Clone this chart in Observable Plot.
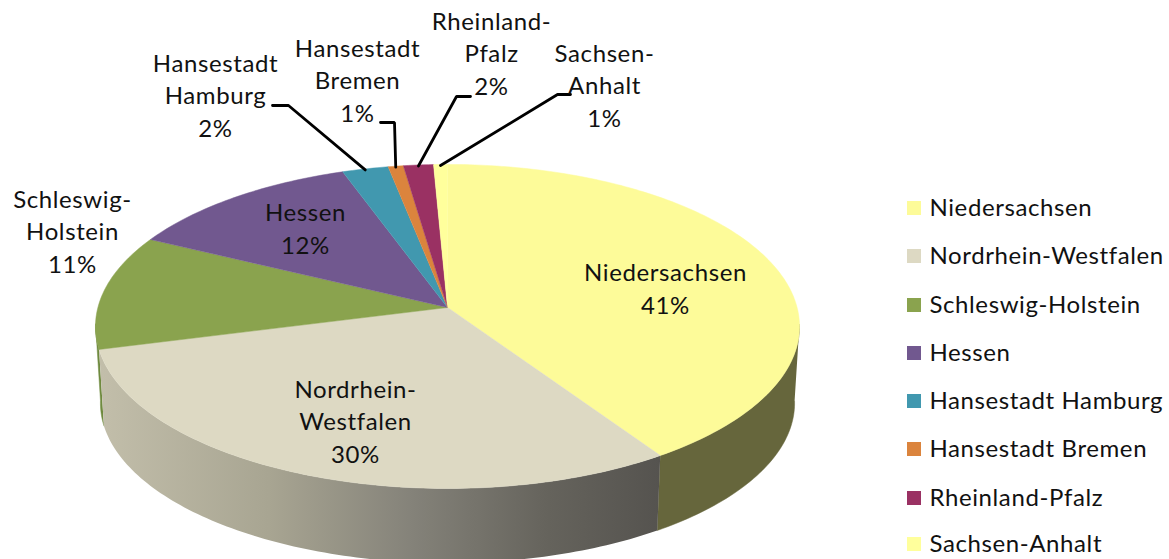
<!DOCTYPE html>
<html><head><meta charset="utf-8">
<style>html,body{margin:0;padding:0;background:#fff}svg{display:block}</style>
<script src="https://cdn.jsdelivr.net/npm/d3@7"></script>
<script src="https://cdn.jsdelivr.net/npm/@observablehq/plot@0.6"></script>
</head><body><div id="chart"></div>
<script>
const states = ["Niedersachsen","Nordrhein-Westfalen","Schleswig-Holstein","Hessen","Hansestadt Hamburg","Hansestadt Bremen","Rheinland-Pfalz","Sachsen-Anhalt"];
const shares = [40.75,30.15,11.49,12.21,2.37,0.78,1.54,0.71];
const colors = ["#FDFB99","#DDD9C3","#8AA34E","#71588F","#4198AF","#DB843D","#9A3163","#FFFF9C"];
const labelLines = ["Niedersachsen","Nordrhein-\nWestfalen","Schleswig-\nHolstein","Hessen","Hansestadt\nHamburg","Hansestadt\nBremen","Rheinland-\nPfalz","Sachsen-\nAnhalt"];
const labelX = [665,355,72,305,215,357,491,604];
const labelY = [286.5,419.5,229.5,226.5,93.5,78.5,51.5,83.5];
const leaderElbows = [null,null,null,null,[[272,105],[288,105]],[[380,122],[394,122]],[[470,96],[456,96]],[[570,94],[557,94]]];
const legendY = [208,256,305,353,401,449,498,544];

// perspective pie geometry
const pie = {cx:447,cy:307,a:349.6,b:159.8,k:0.117};
const base = {dy:77,f:0.986};
const project = (deg,f=1,dy=0)=>{
  const t=deg*Math.PI/180,s=Math.sin(t),u=Math.cos(t),w=1+pie.k*u;
  return {x:pie.cx+f*pie.a*s/w,y:pie.cy+dy-f*pie.b*u/w};
};
let acc=0;
const slices=states.map((name,i)=>{const start=acc*3.6;acc+=shares[i];return {name,start,end:acc*3.6,mid:(start+acc*3.6)/2,i};});
const arc=(a0,a1)=>{const n=Math.max(2,Math.ceil(Math.abs(a1-a0)));return d3.range(n+1).map(j=>a0+(a1-a0)*j/n);};

const faces=slices.flatMap(s=>[
  {name:s.name,x:pie.cx,y:pie.cy},
  ...arc(s.start,s.end).map(d=>({name:s.name,...project(d)}))
]);
const wall=(id,a0,a1)=>[
  ...arc(a0,a1).map(d=>({id,...project(d)})),
  ...arc(a1,a0).map(d=>({id,...project(d,base.f,base.dy)}))
];
const wallN=wall("n",96,slices[0].end);
const wallW=wall("w",slices[1].start,slices[1].end);
const wallS=wall("s",slices[2].start,slices[2].start+9);

const leaders=slices.flatMap(s=>{
  const e=leaderElbows[s.i]; if(!e) return [];
  const p=project(s.mid);
  return [...e.map(([x,y])=>({name:s.name,x,y})),{name:s.name,x:p.x,y:p.y+1}];
});
const labels=slices.map(s=>({name:s.name,x:labelX[s.i],y:labelY[s.i],text:labelLines[s.i]+"\n"+Math.round(shares[s.i])+"%"}));
const legend=states.map((name,i)=>({name,y:legendY[i]}));

const gradient=()=>{
  const svg=d3.create("svg:defs");
  const g=svg.append("linearGradient").attr("id","nrwWall").attr("gradientUnits","userSpaceOnUse")
    .attr("x1",100).attr("x2",660).attr("y1",0).attr("y2",0);
  [[0,"#C2BEAA"],[0.3,"#A8A592"],[0.55,"#85837A"],[0.8,"#65635C"],[1,"#55534F"]]
    .forEach(([o,c])=>g.append("stop").attr("offset",o).attr("stop-color",c));
  return svg.node();
};

const chart=Plot.plot({
  width:1169,height:559,margin:0,
  x:{domain:[0,1169],range:[0,1169],axis:null},
  y:{domain:[0,559],range:[0,559],axis:null},
  color:{type:"ordinal",domain:states,range:colors},
  style:{background:"#fff",fontFamily:"Lato",fontSize:"24px",color:"#000",letterSpacing:"0.6px"},
  marks:[
    gradient,
    Plot.line(wallS,{x:"x",y:"y",fill:"#6F8A3F",stroke:"#6F8A3F",strokeWidth:0.5}),
    Plot.line(wallN,{x:"x",y:"y",fill:"#66663C",stroke:"#66663C",strokeWidth:0.5}),
    Plot.line(wallW,{x:"x",y:"y",fill:"url(#nrwWall)"}),
    Plot.line(faces,{x:"x",y:"y",z:"name",fill:"name",stroke:"name",strokeWidth:0.5}),
    Plot.line(leaders,{x:"x",y:"y",z:"name",stroke:"#000",strokeWidth:2.8,strokeLinejoin:"miter",curve:"linear"}),
    Plot.text(labels,{x:"x",y:"y",text:"text",fill:"#111",fontSize:24,lineHeight:1.35,textAnchor:"middle",lineAnchor:"middle"}),
    Plot.rect(legend,{x1:()=>907,x2:()=>921,y1:d=>d.y-7,y2:d=>d.y+7,fill:"name"}),
    Plot.text(legend,{x:()=>929,y:"y",text:"name",fill:"#111",fontSize:24,textAnchor:"start",lineAnchor:"middle"})
  ]
});
document.getElementById("chart").append(chart);
</script></body></html>
